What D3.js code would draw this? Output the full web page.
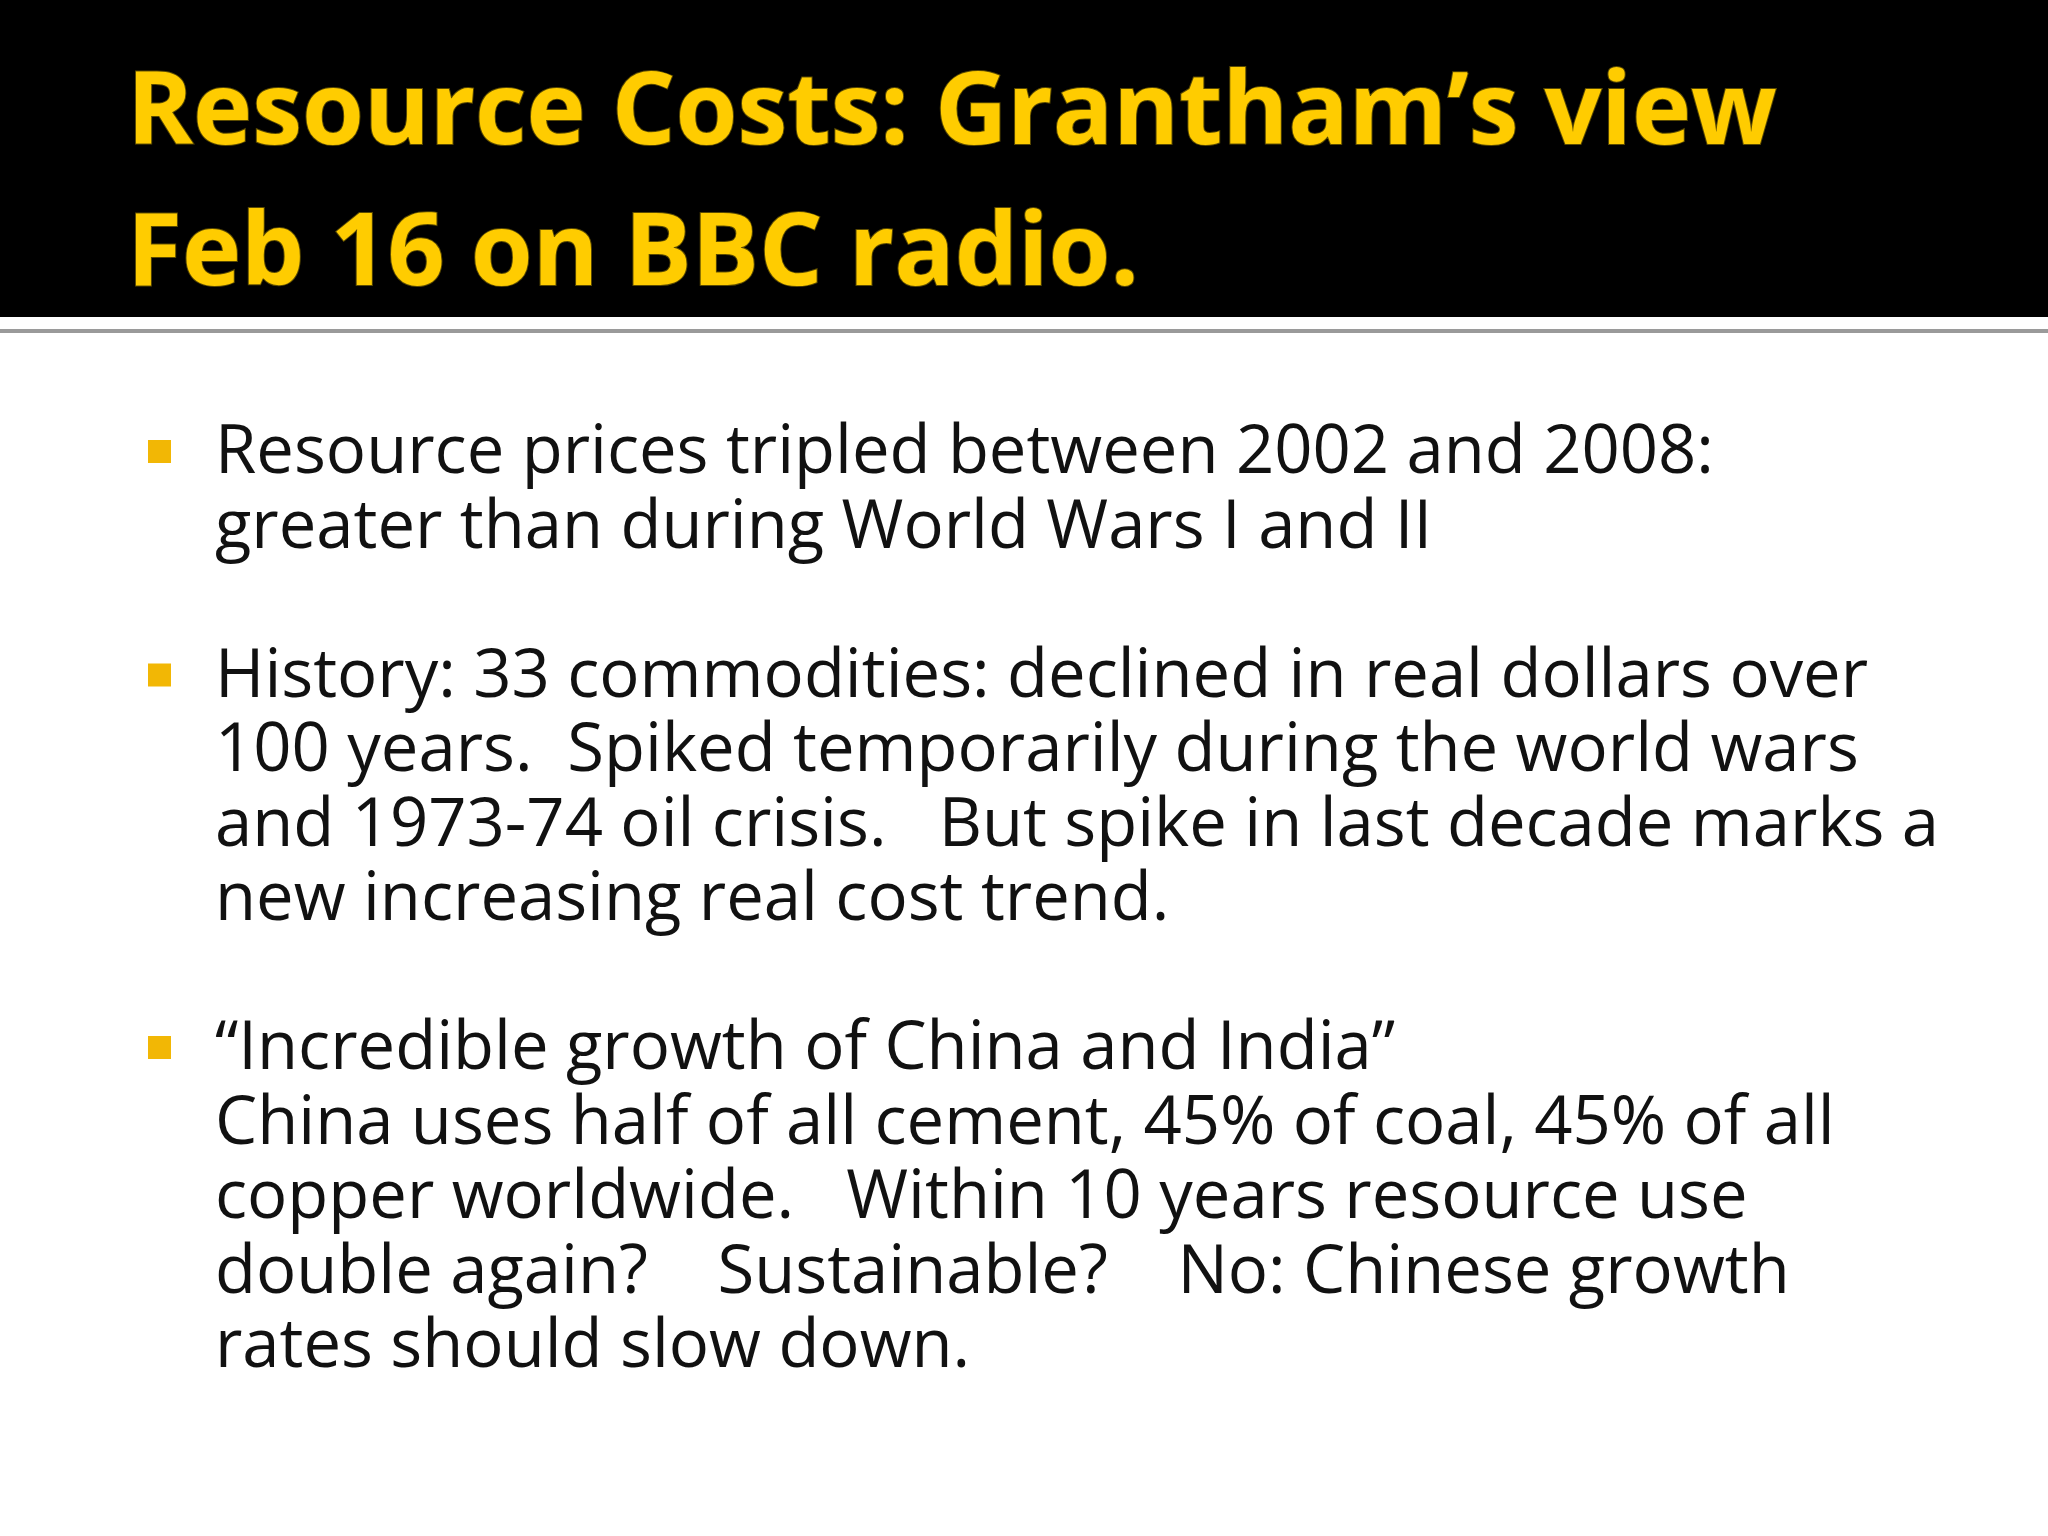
<!DOCTYPE html>
<html><head><meta charset="utf-8">
<script src="https://cdn.jsdelivr.net/npm/d3@7"></script>
<style>html,body{margin:0;padding:0;background:#fff;overflow:hidden}</style>
</head><body>
<svg id="s" width="2048" height="1536"></svg>
<script>
const titleLines = ["Resource Costs: Grantham’s view", "Feb 16 on BBC radio."];
const bullets = [
  ["Resource prices tripled between 2002 and 2008:", "greater than during World Wars I and II"],
  ["History: 33 commodities: declined in real dollars over", "100 years.  Spiked temporarily during the world wars", "and 1973-74 oil crisis.   But spike in last decade marks a", "new increasing real cost trend."],
  ["“Incredible growth of China and India”", "China uses half of all cement, 45% of coal, 45% of all", "copper worldwide.   Within 10 years resource use", "double again?    Sustainable?    No: Chinese growth", "rates should slow down."]
];
const bulletStartLine = [0, 3, 8];

const svg = d3.select("#s");
svg.append("rect").attr("width",2048).attr("height",317).attr("fill","#000");
svg.append("rect").attr("y",329).attr("width",2048).attr("height",4).attr("fill","#9a9a9a");

const tFont = "'Open Sans', sans-serif", bFont = "'Open Sans', sans-serif";
const tt = svg.append("g").selectAll("text").data(titleLines).join("text")
  .attr("x",127).attr("y",(d,i)=>[144,285][i])
  .attr("fill","#FFCC00").attr("font-family",tFont).attr("font-weight",700)
  .attr("font-size",100).style("paint-order","stroke")
  .attr("stroke","#5a4a00").attr("stroke-width",2)
  .text(d=>d);
const tw = tt.node().getComputedTextLength();
tt.attr("font-size",100*1650/tw);

const y = d3.scaleLinear().domain([0,1]).range([473,547.5]);
const g = svg.append("g");
const lines = [];
bullets.forEach((b,bi)=>b.forEach((l,li)=>lines.push({t:l,slot:bulletStartLine[bi]+li})));
const bt = g.selectAll("text").data(lines).join("text")
  .attr("x",215).attr("y",d=>y(d.slot)).attr("fill","#111")
  .attr("font-family",bFont).attr("font-size",100).style("white-space","pre").text(d=>d.t);
const w = bt.node().getComputedTextLength();
bt.attr("font-size",100*1499/w);
g.selectAll("rect").data(bulletStartLine).join("rect")
  .attr("x",148).attr("y",d=>y(d)-33).attr("width",23).attr("height",23).attr("fill","#F2B705");
</script>
</body></html>
